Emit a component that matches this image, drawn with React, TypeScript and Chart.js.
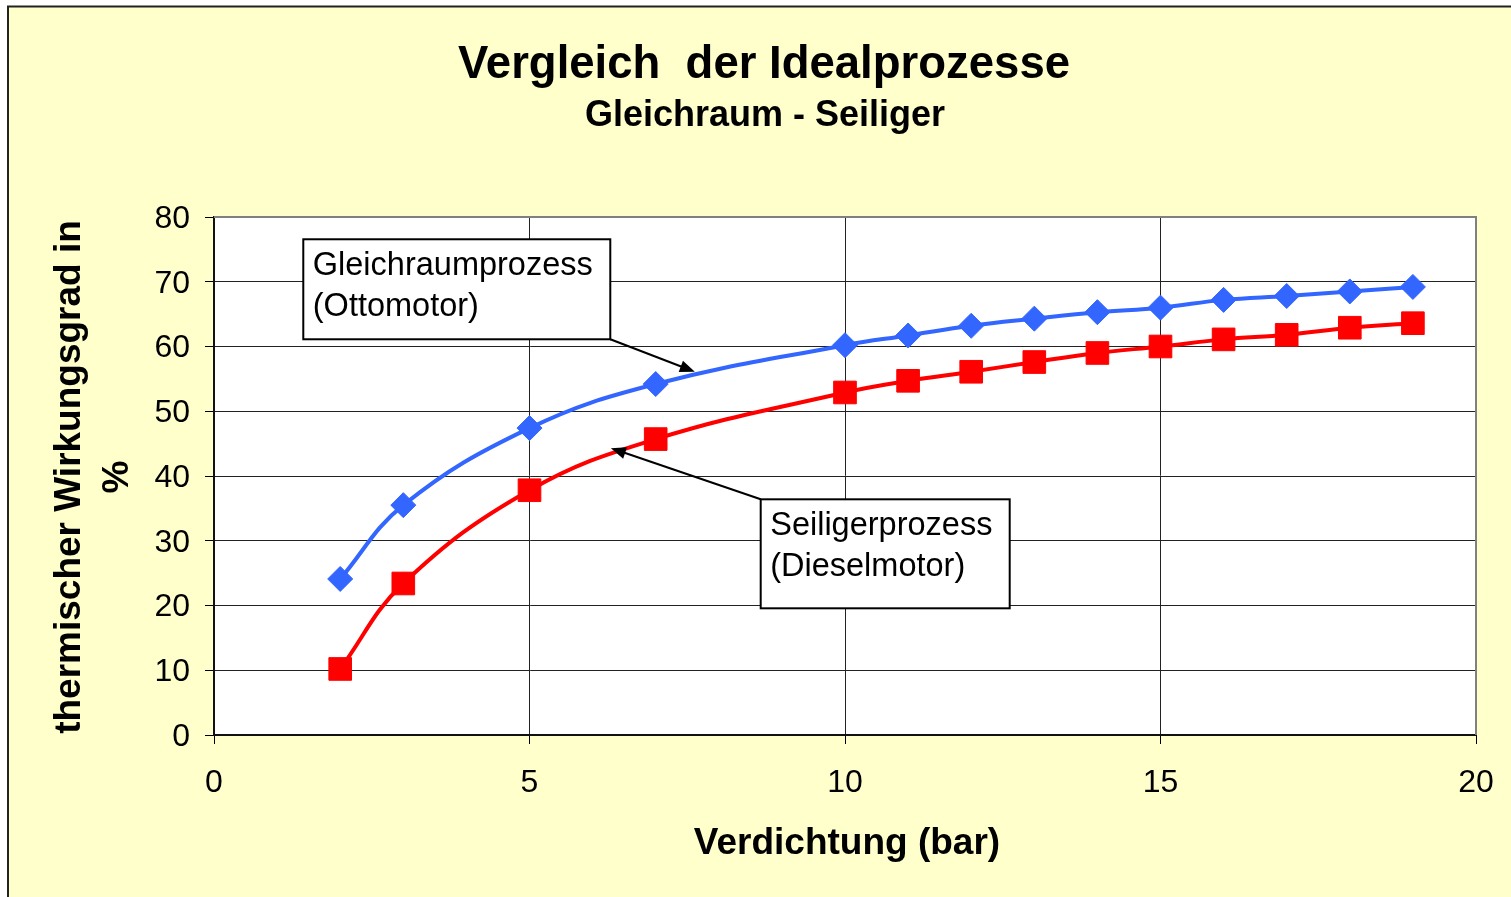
import React, { useEffect, useRef } from "react";
import { Chart, registerables } from "chart.js";

Chart.register(...registerables);

// ---- data ----
const compression = [2, 3, 5, 7, 10, 11, 12, 13, 14, 15, 16, 17, 18, 19];
const ottoEfficiency = [24.1, 35.5, 47.4, 54.2, 60.2, 61.7, 63.2, 64.3, 65.3, 66.0, 67.2, 67.8, 68.5, 69.2];
const seiligerEfficiency = [10.2, 23.4, 37.8, 45.7, 52.9, 54.7, 56.1, 57.6, 59.0, 60.0, 61.1, 61.8, 62.9, 63.6];
const xTicks = [0, 5, 10, 15, 20];
const yTicks = [0, 10, 20, 30, 40, 50, 60, 70, 80];

const titleText = "Vergleich  der Idealprozesse";
const subtitleText = "Gleichraum - Seiliger";
const xAxisTitle = "Verdichtung (bar)";
const yAxisTitle = ["thermischer Wirkungsgrad in", "%"];
const ottoLabel = ["Gleichraumprozess", "(Ottomotor)"];
const seiligerLabel = ["Seiligerprozess", "(Dieselmotor)"];

const FONT = '"Liberation Sans", Arial, Helvetica, sans-serif';
const BLUE = "#3366FF";
const RED = "#FF0000";

// annotation callouts: box top-left in data coords, arrow from box corner to data tip
const callouts = [
  { lines: ottoLabel, bx: 1.415, by: 76.56, w: 307, h: 100, from: "br", tipX: 7.62, tipY: 56.1 },
  { lines: seiligerLabel, bx: 8.664, by: 36.4, w: 249, h: 109, from: "tl", tipX: 6.29, tipY: 44.3 },
];

function drawArrow(ctx: CanvasRenderingContext2D, x1: number, y1: number, x2: number, y2: number) {
  const ang = Math.atan2(y2 - y1, x2 - x1);
  const L = 15;
  const W = 6;
  const c = Math.cos(ang);
  const s = Math.sin(ang);
  ctx.beginPath();
  ctx.moveTo(x1, y1);
  ctx.lineTo(x2 - L * 0.7 * c, y2 - L * 0.7 * s);
  ctx.stroke();
  ctx.beginPath();
  ctx.moveTo(x2, y2);
  ctx.lineTo(x2 - L * c + W * s, y2 - L * s - W * c);
  ctx.lineTo(x2 - L * c - W * s, y2 - L * s + W * c);
  ctx.closePath();
  ctx.fill();
}

const decorPlugin = {
  id: "decor",
  beforeDraw(chart: any) {
    const { ctx, width, height, chartArea: a } = chart;
    ctx.save();
    ctx.fillStyle = "#ffffff";
    ctx.fillRect(0, 0, width, height);
    ctx.fillStyle = "#FFFFCC";
    ctx.fillRect(8, 6, width - 8, height - 6);
    ctx.strokeStyle = "#222222";
    ctx.lineWidth = 2;
    ctx.beginPath();
    ctx.moveTo(8, height);
    ctx.lineTo(8, 6.5);
    ctx.lineTo(width, 6.5);
    ctx.stroke();
    ctx.fillStyle = "#ffffff";
    ctx.fillRect(a.left, a.top, a.right - a.left, a.bottom - a.top);
    ctx.restore();
  },
  beforeDatasetsDraw(chart: any) {
    const { ctx, chartArea: a } = chart;
    ctx.save();
    ctx.strokeStyle = "#808080";
    ctx.lineWidth = 2;
    ctx.beginPath();
    ctx.moveTo(a.left, a.top);
    ctx.lineTo(a.right, a.top);
    ctx.lineTo(a.right, a.bottom);
    ctx.stroke();
    ctx.restore();
  },
  afterDatasetsDraw(chart: any) {
    const { ctx } = chart;
    const xs = chart.scales.x;
    const ys = chart.scales.y;
    ctx.save();
    for (const c of callouts) {
      const left = xs.getPixelForValue(c.bx);
      const top = ys.getPixelForValue(c.by);
      ctx.strokeStyle = "#000";
      ctx.fillStyle = "#000";
      ctx.lineWidth = 2;
      const fx = c.from === "br" ? left + c.w : left;
      const fy = c.from === "br" ? top + c.h : top;
      drawArrow(ctx, fx, fy, xs.getPixelForValue(c.tipX), ys.getPixelForValue(c.tipY));
      ctx.fillStyle = "#fff";
      ctx.fillRect(left, top, c.w, c.h);
      ctx.strokeRect(left, top, c.w, c.h);
      ctx.fillStyle = "#000";
      ctx.font = `32.5px ${FONT}`;
      ctx.textAlign = "left";
      ctx.textBaseline = "alphabetic";
      c.lines.forEach((ln, i) => {
        ctx.fillText(ln, left + 9.5, top + 36 + i * 41);
      });
    }
    ctx.restore();
  },
  afterDraw(chart: any) {
    const { ctx } = chart;
    ctx.save();
    ctx.fillStyle = "#000";
    ctx.textAlign = "center";
    ctx.textBaseline = "alphabetic";
    ctx.font = `bold 45.5px ${FONT}`;
    ctx.fillText(titleText, 764, 78);
    ctx.font = `bold 36px ${FONT}`;
    ctx.fillText(subtitleText, 765, 126);
    ctx.font = `bold 37px ${FONT}`;
    ctx.fillText(xAxisTitle, 847, 854);
    ctx.save();
    ctx.translate(80, 477);
    ctx.rotate(-Math.PI / 2);
    ctx.fillText(yAxisTitle[0], 0, 0);
    ctx.fillText(yAxisTitle[1], 0, 48);
    ctx.restore();
    ctx.restore();
  },
};

export default function App() {
  const ref = useRef<HTMLCanvasElement | null>(null);
  useEffect(() => {
    if (!ref.current) return;
    const edgeColor = (edges: number[]) => (c: any) =>
      c.tick && edges.includes(c.tick.value) ? "rgba(0,0,0,0)" : "#222222";
    const chart = new Chart(ref.current, {
      type: "line",
      data: {
        datasets: [
          {
            label: "Gleichraumprozess (Ottomotor)",
            data: compression.map((x, i) => ({ x, y: ottoEfficiency[i] })),
            borderColor: BLUE,
            backgroundColor: BLUE,
            borderWidth: 4,
            tension: 0.4,
            pointStyle: "rectRot",
            pointRadius: 12.5,
            pointBorderWidth: 1,
            pointBorderColor: BLUE,
            pointBackgroundColor: BLUE,
          },
          {
            label: "Seiligerprozess (Dieselmotor)",
            data: compression.map((x, i) => ({ x, y: seiligerEfficiency[i] })),
            borderColor: RED,
            backgroundColor: RED,
            borderWidth: 4,
            tension: 0.4,
            pointStyle: "rect",
            pointRadius: 16,
            pointBorderWidth: 1,
            pointBorderColor: RED,
            pointBackgroundColor: RED,
          },
        ],
      },
      options: {
        animation: false,
        responsive: false,
        events: [],
        layout: { padding: { left: 0, top: 217, right: 35, bottom: 0 } },
        plugins: {
          legend: { display: false },
          title: { display: false },
          tooltip: { enabled: false },
        },
        scales: {
          x: {
            type: "linear",
            min: 0,
            max: 20,
            afterBuildTicks: (s: any) => {
              s.ticks = xTicks.map((v) => ({ value: v }));
            },
            afterFit: (s: any) => {
              s.height = 162;
              s.paddingLeft = 0;
              s.paddingRight = 0;
            },
            ticks: {
              font: { family: FONT, size: 32 },
              color: "#000",
              padding: 20,
              maxRotation: 0,
              autoSkip: false,
            },
            grid: {
              color: edgeColor([0, 20]),
              lineWidth: 1,
              tickColor: "#000",
              tickLength: 9,
              tickWidth: 1,
            },
            border: { display: true, color: "#111", width: 2 },
          },
          y: {
            type: "linear",
            min: 0,
            max: 80,
            afterBuildTicks: (s: any) => {
              s.ticks = yTicks.map((v) => ({ value: v }));
            },
            afterFit: (s: any) => {
              s.width = 214;
              s.paddingTop = 0;
              s.paddingBottom = 0;
            },
            ticks: {
              font: { family: FONT, size: 32 },
              color: "#000",
              padding: 15,
              labelOffset: 2,
              autoSkip: false,
            },
            grid: {
              color: edgeColor([0, 80]),
              lineWidth: 1,
              tickColor: "#000",
              tickLength: 9,
              tickWidth: 1,
            },
            border: { display: true, color: "#111", width: 2 },
          },
        },
      },
      plugins: [decorPlugin],
    } as any);
    return () => chart.destroy();
  }, []);
  return (
    <canvas
      ref={ref}
      width={1511}
      height={897}
      style={{ position: "fixed", left: 0, top: 0, width: 1511, height: 897, display: "block" }}
    />
  );
}
